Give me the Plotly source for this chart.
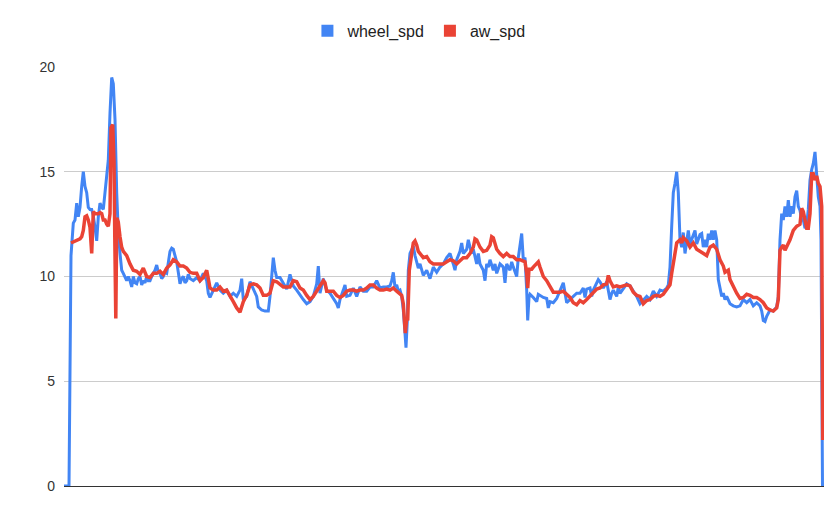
import plotly.graph_objects as go

# sample index (time steps) and speeds
t_wheel = [0, 5, 7, 8, 9.3, 11, 12.7, 14.3, 16, 17.7, 19.3, 21, 22.7, 24.3, 26, 27.7, 29.3, 31, 32.7, 34.3,
           36, 37.7, 39.3, 41, 42.7, 44.3, 46, 47.7, 49.3, 51, 52.7, 54.3, 56, 57.7, 59.3, 61, 62.7, 64.3, 66, 67.7,
           69.3, 71, 72.7, 74.3, 76, 77.7, 79.3, 81, 82.7, 84.3, 86, 87.7, 89.3, 91, 92.7, 94.3, 96, 97.7, 99.3, 101,
           102.7, 104.3, 106, 107.7, 109.3, 111, 112.7, 114.3, 116, 117.7, 119.3, 121, 122.7, 124.3, 126, 129.3, 132.7, 136, 139.3, 142.7,
           144.3, 146, 149.3, 152.7, 156, 159.3, 162.7, 166, 169.3, 172.7, 176, 177.7, 179.3, 182.7, 186, 189.3, 192.7, 194.3, 197.7, 201,
           204.3, 206, 207.7, 209.3, 211, 212.7, 216, 219.3, 222.7, 226, 227.7, 229.3, 232.7, 236, 239.3, 242.7, 246, 249.3, 252.7, 254.3,
           256, 259.3, 261, 262.7, 266, 269.3, 272.7, 274.3, 276, 279.3, 281, 282.7, 286, 289.3, 292.7, 296, 299.3, 302.7, 306, 309.3,
           312.7, 316, 319.3, 322.7, 326, 327.7, 329.3, 331, 332.7, 334.3, 336, 337.7, 339.3, 341, 342, 343.3, 344.3, 346, 347.7, 349.3,
           351, 352.7, 354.3, 356, 359.3, 362.7, 366, 369.3, 372.7, 376, 379.3, 382.7, 386, 389.3, 391, 392.7, 396, 397.7, 399.3, 402.7,
           404.3, 406, 407.7, 409.3, 411, 412.7, 414.3, 416, 419.3, 421, 422.7, 424.3, 426, 429.3, 431, 432.7, 436, 439.3, 441, 442.7,
           446, 447.7, 449.3, 452.7, 454.3, 456, 457.7, 459.3, 461, 462.7, 463.7, 465, 466, 469.3, 472.7, 474.3, 476, 479.3, 482.7, 484.3,
           486, 489.3, 492.7, 496, 499.3, 502.7, 506, 509.3, 512.7, 516, 519.3, 521, 522.7, 526, 527.7, 529.3, 532.7, 534.3, 536, 539.3,
           542.7, 544.3, 546, 547.7, 549.3, 552.7, 554.3, 556, 559.3, 562.7, 566, 569.3, 572.7, 576, 579.3, 582.7, 586, 589.3, 592.7, 596,
           599.3, 602.7, 604.3, 606, 607.7, 609.3, 611, 612.7, 614.3, 616, 617.7, 619.3, 621, 622.7, 624.3, 626, 629.3, 631, 632.7, 636,
           637.7, 639.3, 641, 642.7, 644.3, 646, 647.7, 649.3, 651, 652.7, 654.3, 656, 657.7, 659.3, 661, 662.7, 666, 669.3, 672.7, 676,
           679.3, 682.7, 686, 689.3, 692.7, 696, 697.7, 699.3, 701, 702.7, 704.3, 706, 709.3, 712.7, 714.3, 716, 717.7, 719.3, 721, 722.7,
           724.3, 726, 727.7, 729.3, 731, 732.7, 734.3, 736, 737.7, 739.3, 741, 742.7, 744.3, 746, 747.7, 749.3, 751, 752.7, 754.3, 756,
           757, 758.5]
wheel_spd = [0, 0, 11.0, 11.7, 12.55, 12.7, 13.5, 12.85, 13.3, 14.3, 15.0, 14.3, 14.0, 13.3, 13.2, 13.2, 12.9, 12.35, 11.7, 12.85,
             13.5, 13.3, 13.2, 14.0, 14.9, 15.55, 17.8, 19.5, 19.2, 17.5, 14.0, 12.1, 11.1, 10.3, 10.15, 10.0, 9.8, 10.0, 9.8, 9.5,
             10.0, 9.7, 9.65, 9.9, 10.0, 9.6, 9.8, 9.7, 10.0, 9.8, 9.8, 10.0, 10.15, 10.3, 10.55, 10.2, 10.15, 9.9, 10.0, 10.2,
             10.15, 10.6, 11.2, 11.35, 11.3, 11.0, 10.7, 10.2, 9.65, 9.9, 10.0, 9.7, 9.8, 10.1, 9.9, 9.8, 9.95, 9.8, 10.15, 9.8,
             9.2, 9.0, 9.35, 9.7, 9.35, 9.2, 9.35, 9.05, 9.2, 9.05, 9.35, 9.9, 8.9, 9.05, 9.75, 9.4, 9.05, 8.55, 8.4, 8.35,
             8.35, 9.05, 10.15, 10.9, 10.3, 9.95, 9.95, 9.65, 9.4, 10.1, 9.8, 9.55, 9.35, 9.1, 8.9, 8.7, 8.8, 9.05, 9.65, 10.5,
             9.2, 9.9, 9.6, 9.35, 9.2, 8.95, 8.7, 8.5, 8.9, 9.35, 9.6, 9.05, 9.1, 9.45, 9.05, 9.5, 9.3, 9.3, 9.5, 9.5,
             9.8, 9.45, 9.5, 9.5, 9.55, 9.8, 10.2, 9.5, 9.6, 9.3, 9.35, 9.05, 8.4, 7.3, 6.6, 7.9, 10.3, 11.1, 11.3, 11.45,
             11.0, 10.6, 10.4, 10.6, 10.05, 10.3, 9.9, 10.45, 10.2, 10.45, 10.6, 10.9, 11.1, 10.6, 10.3, 10.8, 11.2, 11.6, 11.1, 11.3,
             11.75, 11.4, 11.1, 11.3, 10.9, 10.6, 11.1, 10.6, 10.3, 9.8, 10.6, 10.45, 10.8, 10.3, 10.6, 10.15, 10.6, 10.45, 9.7, 10.6,
             10.3, 10.7, 10.45, 10.0, 10.9, 11.4, 12.05, 10.8, 10.9, 9.35, 7.9, 9.0, 9.15, 9.0, 8.8, 9.15, 9.1, 9.0, 8.95, 8.5,
             8.8, 8.75, 8.95, 9.3, 9.7, 8.75, 8.9, 9.05, 9.2, 9.2, 9.45, 9.0, 9.4, 9.45, 9.05, 9.35, 9.7, 9.85, 9.75, 9.45,
             9.75, 9.35, 8.9, 9.2, 9.35, 9.05, 9.5, 9.2, 9.45, 9.65, 9.55, 9.3, 9.05, 8.7, 8.85, 9.05, 8.9, 9.3, 9.05, 9.35,
             9.3, 9.45, 9.6, 10.45, 12.4, 14.0, 14.45, 15.0, 14.0, 11.75, 11.4, 12.1, 11.1, 11.75, 12.2, 11.55, 11.95, 12.2, 11.55, 12.0,
             12.05, 11.4, 11.75, 11.4, 12.05, 11.75, 12.2, 11.75, 12.2, 11.75, 9.85, 9.35, 9.05, 9.2, 8.9, 9.05, 8.7, 8.6, 8.55, 8.6,
             8.9, 8.75, 8.9, 8.6, 8.75, 8.6, 8.35, 7.9, 7.85, 8.1, 8.25, 8.4, 8.35, 8.55, 9.05, 11.75, 13.0, 12.7, 13.35, 12.85,
             13.65, 12.85, 13.35, 13.0, 13.8, 14.1, 13.35, 13.15, 12.7, 12.7, 12.3, 12.5, 13.2, 14.6, 15.1, 15.4, 15.95, 14.9, 13.8, 13.35,
             11.75, 0]

t_aw = [7, 9.3, 12.7, 16, 17.7, 19.3, 21, 22.7, 24.3, 26, 27.7, 29.3, 31, 32.7, 34.3, 36, 37.7, 39.3, 41, 42.7,
        44.3, 46, 47, 48.7, 50, 50.8, 51.8, 52.8, 54.3, 56, 57.7, 59.3, 62.7, 66, 69.3, 72.7, 76, 79.3, 82.7, 86,
        89.3, 92.7, 96, 99.3, 102.7, 106, 109.3, 112.7, 116, 119.3, 122.7, 126, 129.3, 132.7, 136, 139.3, 142.7, 144.3, 146, 149.3,
        152.7, 156, 159.3, 162.7, 166, 169.3, 172.7, 176, 179.3, 182.7, 186, 189.3, 192.7, 196, 199.3, 202.7, 206, 209.3, 212.7, 216,
        219.3, 222.7, 226, 229.3, 232.7, 236, 239.3, 242.7, 246, 249.3, 252.7, 256, 259.3, 261, 262.7, 266, 269.3, 272.7, 276, 279.3,
        282.7, 286, 289.3, 292.7, 296, 299.3, 302.7, 306, 309.3, 312.7, 316, 319.3, 322.7, 326, 329.3, 332.7, 336, 337.7, 339.3, 340.3,
        341.3, 342.7, 343.7, 345.3, 347.7, 349.3, 351, 352.7, 354.3, 356, 357.7, 359.3, 362.7, 366, 369.3, 372.7, 376, 379.3, 382.7, 386,
        389.3, 392.7, 396, 399.3, 402.7, 406, 409.3, 411, 412.7, 416, 419.3, 422.7, 426, 427.7, 429.3, 432.7, 436, 439.3, 442.7, 446,
        449.3, 452.7, 456, 459.3, 461, 462.7, 463.7, 465, 467.7, 469.3, 472.7, 474.3, 476, 479.3, 482.7, 486, 489.3, 492.7, 496, 499.3,
        502.7, 506, 509.3, 512.7, 516, 519.3, 522.7, 526, 529.3, 532.7, 536, 539.3, 542.7, 544.3, 546, 549.3, 552.7, 556, 559.3, 562.7,
        566, 569.3, 572.7, 576, 579.3, 582.7, 586, 589.3, 592.7, 596, 599.3, 602.7, 606, 607.7, 609.3, 611, 612.7, 616, 617.7, 619.3,
        622.7, 626, 629.3, 632.7, 636, 639.3, 642.7, 646, 649.3, 652.7, 656, 659.3, 661, 662.7, 664.3, 666, 669.3, 672.7, 676, 679.3,
        682.7, 686, 689.3, 692.7, 696, 699.3, 702.7, 706, 709.3, 712.7, 714.3, 716, 717.7, 719.3, 721, 722.7, 726, 729.3, 732.7, 736,
        737.7, 739.3, 741, 742.7, 744.3, 746, 747.7, 749.3, 751, 752.7, 754.3, 756, 757.7, 758.7]
aw_spd = [11.6, 11.65, 11.7, 11.8, 11.9, 12.2, 12.85, 12.9, 12.7, 12.35, 11.1, 13.1, 13.0, 13.0, 13.0, 13.05, 13.0, 12.7, 12.7, 12.5,
          12.4, 13.0, 17.1, 17.25, 15.5, 11.8, 8.0, 12.8, 12.6, 11.9, 11.4, 11.2, 11.0, 10.6, 10.3, 10.25, 10.1, 10.4, 10.0, 9.95,
          10.15, 10.15, 10.25, 10.1, 10.4, 10.55, 10.8, 10.7, 10.5, 10.5, 10.4, 10.2, 10.15, 10.15, 9.8, 9.95, 10.3, 9.9, 9.45, 9.35,
          9.35, 9.5, 9.3, 9.35, 9.1, 8.8, 8.5, 8.3, 8.8, 9.1, 9.6, 9.65, 9.6, 9.45, 9.1, 9.1, 9.2, 9.8, 9.75, 9.6,
          9.5, 9.5, 9.5, 9.8, 9.75, 9.45, 9.35, 9.1, 8.9, 9.05, 9.3, 9.5, 9.8, 9.7, 9.3, 9.3, 9.3, 9.1, 9.0, 9.1,
          9.3, 9.35, 9.35, 9.3, 9.35, 9.35, 9.45, 9.6, 9.6, 9.45, 9.35, 9.35, 9.4, 9.35, 9.45, 9.3, 9.2, 9.1, 8.7, 7.6,
          7.3, 8.0, 7.9, 10.3, 11.3, 11.6, 11.7, 11.5, 11.2, 11.1, 10.95, 10.9, 10.95, 10.7, 10.6, 10.6, 10.6, 10.6, 10.7, 10.8,
          10.75, 10.6, 10.75, 10.9, 10.9, 11.1, 11.4, 11.8, 11.75, 11.4, 11.2, 11.25, 11.5, 11.9, 11.85, 11.3, 11.1, 10.95, 11.1, 10.95,
          10.95, 10.8, 10.8, 10.75, 10.7, 10.15, 9.45, 10.35, 10.35, 10.45, 10.6, 10.7, 10.45, 10.0, 9.8, 9.55, 9.25, 9.25, 9.25, 9.3,
          9.15, 9.0, 8.75, 8.65, 8.85, 8.75, 8.9, 9.05, 9.2, 9.4, 9.45, 9.6, 9.65, 10.05, 9.8, 9.5, 9.55, 9.5, 9.55, 9.6,
          9.55, 9.25, 9.1, 9.05, 8.7, 8.85, 8.9, 9.05, 9.1, 9.05, 9.15, 9.4, 9.6, 10.15, 10.6, 11.1, 11.6, 11.75, 11.6, 11.85,
          11.7, 11.4, 11.6, 11.3, 11.2, 11.1, 11.0, 11.4, 11.5, 11.3, 10.8, 10.5, 10.2, 10.25, 10.3, 9.85, 9.5, 9.2, 8.95, 9.0,
          9.15, 9.1, 9.0, 9.0, 8.9, 8.75, 8.5, 8.4, 8.35, 8.5, 8.9, 11.25, 11.4, 11.5, 11.25, 11.4, 11.75, 12.2, 12.4, 12.5,
          13.25, 13.1, 12.7, 12.3, 12.3, 13.0, 14.9, 14.9, 14.6, 14.8, 14.45, 14.3, 13.35, 2.2]

y_ticks = [0, 5, 10, 15, 20]
series_names = ["wheel_spd", "aw_spd"]
series_colors = ["#4285F4", "#EA4335"]

fig = go.Figure()
fig.add_trace(go.Scatter(x=t_wheel, y=wheel_spd, mode="lines", name=series_names[0],
                         legendgroup="w", showlegend=False,
                         line=dict(color=series_colors[0], width=3)))
fig.add_trace(go.Scatter(x=t_aw, y=aw_spd, mode="lines", name=series_names[1],
                         legendgroup="a", showlegend=False,
                         line=dict(color=series_colors[1], width=3.5)))
# legend swatches (rectangular keys)
for nm, col, grp in zip(series_names, series_colors, ["w", "a"]):
    fig.add_trace(go.Bar(x=[None], y=[None], name=nm, legendgroup=grp,
                         marker=dict(color=col, line=dict(width=0))))

fig.update_layout(
    width=826, height=509,
    margin=dict(l=64, r=2, t=67, b=23),
    paper_bgcolor="white", plot_bgcolor="white",
    font=dict(family="Liberation Sans, Arial, sans-serif", size=14, color="#333333"),
    showlegend=True,
    legend=dict(orientation="h", x=0.467, xanchor="center", y=1.086, yanchor="middle",
                font=dict(size=16, color="#222222"), itemclick=False, itemdoubleclick=False,
                bgcolor="rgba(0,0,0,0)", tracegroupgap=0),
    xaxis=dict(range=[0, 760], showgrid=False, zeroline=False, showticklabels=False,
               showline=False, ticks=""),
    yaxis=dict(range=[0, 20], tickvals=y_ticks, gridcolor="#cccccc", gridwidth=1,
               zeroline=True, zerolinecolor="#333333", zerolinewidth=1,
               showline=False, ticks="", ticklabelstandoff=8,
               tickfont=dict(size=14, color="#333333")),
)

# remove the default page margin so the 826x509 figure fills the window exactly
fig.write_html("out.html",
               config={"displayModeBar": False},
               post_script="document.body.style.margin='0px';document.body.style.overflow='hidden';")
